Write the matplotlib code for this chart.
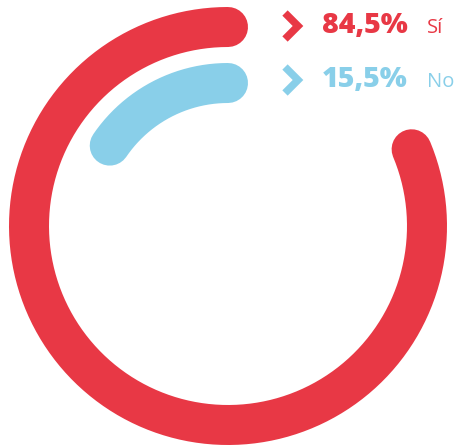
import numpy as np
import matplotlib.pyplot as plt

# Survey answer shares (%)
labels = ["Sí", "No"]
values = [84.5, 15.5]
value_text = ["84,5%", "15,5%"]
colors = ["#E83845", "#89CFE9"]

# Ring geometry in pixels
W, H = 459, 448
cx, cy = 228, 226
radii = [199, 143]
ring_w = 40
# the outer ring keeps its rounded ends inside its share of the circle
caps_inside = [True, False]

fig = plt.figure(figsize=(W / 100, H / 100), dpi=100)
ax = fig.add_axes([0, 0, 1, 1])
ax.set_xlim(0, W)
ax.set_ylim(H, 0)
ax.set_aspect("equal")
ax.axis("off")

lw_pt = ring_w * 72 / 100

for val, r, col, inside in zip(values, radii, colors, caps_inside):
    sweep = np.radians(360 * val / 100)
    if inside:
        sweep -= ring_w / r
    # start at 12 o'clock and go counter-clockwise
    t = np.linspace(0, sweep, 400)
    x = cx - r * np.sin(t)
    y = cy - r * np.cos(t)
    ax.plot(x, y, color=col, lw=lw_pt, solid_capstyle="round")

# legend rows: chevron, big percentage, answer
rows_y = [33, 87]
for i, (lab, txt, col) in enumerate(zip(labels, value_text, colors)):
    by = rows_y[i]
    ax.plot([285, 298, 285], [by - 20, by - 7, by + 6], color=col, lw=5.4,
            solid_joinstyle="miter", solid_capstyle="butt")
    ax.text(322, by, txt, color=col, fontsize=20.5, fontweight=800,
            family="Open Sans", ha="left", va="baseline")
    ax.text(427, by, lab, color=col, fontsize=14.5,
            family="Open Sans", ha="left", va="baseline")

fig.savefig("out.png", dpi=100)
